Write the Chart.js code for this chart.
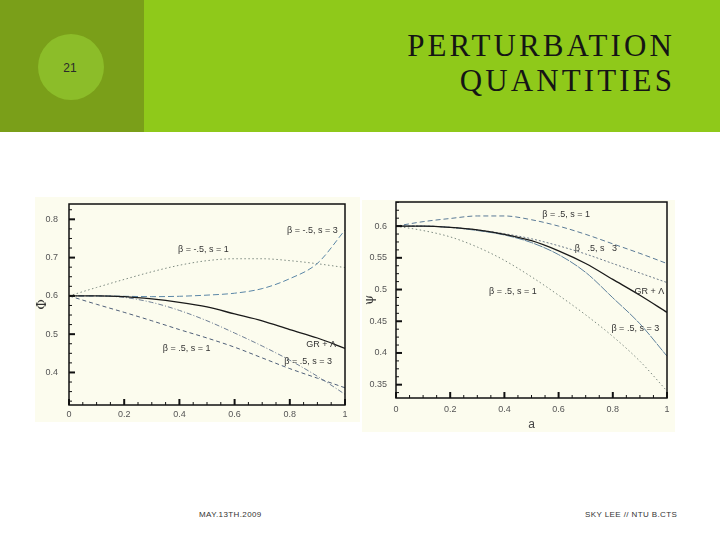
<!DOCTYPE html>
<html>
<head>
<meta charset="utf-8">
<script src="https://cdn.jsdelivr.net/npm/chart.js@4.4.0/dist/chart.umd.min.js"></script>
<style>
  body { margin: 0; width: 720px; height: 540px; background: #ffffff; position: relative; overflow: hidden; font-family: "Liberation Sans", Arial, sans-serif; }
  #band { position: absolute; left: 0; top: 0; width: 720px; height: 132px; background: #8fc91a; }
  #side { position: absolute; left: 0; top: 0; width: 144px; height: 132px; background: #7a9f19; }
  #dot { position: absolute; left: 38px; top: 34px; width: 66px; height: 66px; border-radius: 50%; background: #8cbd29; }
  #num { position: absolute; left: 37px; top: 35px; width: 66px; height: 66px; line-height: 66px; text-align: center; font-size: 12px; color: #2a2a2a; }
  .title { position: absolute; right: 45px; font-family: "Liberation Serif", "DejaVu Serif", serif; font-size: 31px; letter-spacing: 3.1px; color: #151515; white-space: nowrap; }
  .foot { position: absolute; top: 510px; font-size: 8px; letter-spacing: 0.4px; color: #333; white-space: nowrap; }
  canvas { position: absolute; background: #fcfcee; }
</style>
</head>
<body>
<div id="band"></div>
<div id="side"></div>
<div id="dot"></div>
<div id="num">21</div>
<div class="title" style="top:28px">PERTURBATION</div>
<div class="title" style="top:63px">QUANTITIES</div>
<canvas id="phi-chart" width="325" height="225" style="left:35px; top:197px"></canvas>
<canvas id="psi-chart" width="313" height="232" style="left:362px; top:200px"></canvas>
<div class="foot" style="left:199px">MAY.13TH.2009</div>
<div class="foot" style="left:585px">SKY LEE // NTU B.CTS</div>
<script>
// scale factor a
const aValues = [0, 0.1, 0.2, 0.3, 0.4, 0.5, 0.6, 0.7, 0.8, 0.9, 1];

// left panel: Phi
const phiNegS3 = [0.6, 0.6, 0.599, 0.598, 0.599, 0.602, 0.607, 0.619, 0.645, 0.685, 0.772];
const phiNegS1 = [0.6, 0.622, 0.643, 0.663, 0.68, 0.692, 0.697, 0.697, 0.692, 0.684, 0.674];
const phiGR = [0.6, 0.6, 0.598, 0.592, 0.583, 0.571, 0.553, 0.535, 0.512, 0.49, 0.463];
const phiPosS3 = [0.6, 0.6, 0.596, 0.583, 0.562, 0.535, 0.503, 0.469, 0.432, 0.39, 0.343];
const phiPosS1 = [0.6, 0.578, 0.557, 0.535, 0.512, 0.49, 0.466, 0.438, 0.41, 0.385, 0.36];
const phiYTicks = [0.4, 0.5, 0.6, 0.7, 0.8];

// right panel: Psi
const psiTopS1 = [0.6, 0.607, 0.612, 0.616, 0.616, 0.61, 0.6, 0.587, 0.572, 0.557, 0.541];
const psiMidS3 = [0.6, 0.6, 0.598, 0.594, 0.588, 0.58, 0.569, 0.556, 0.541, 0.526, 0.511];
const psiGR = [0.6, 0.6, 0.598, 0.594, 0.587, 0.577, 0.561, 0.541, 0.516, 0.491, 0.464];
const psiLowS3 = [0.6, 0.6, 0.598, 0.593, 0.586, 0.574, 0.555, 0.527, 0.487, 0.446, 0.395];
const psiLowS1 = [0.6, 0.593, 0.583, 0.567, 0.546, 0.52, 0.491, 0.46, 0.426, 0.387, 0.34];
const psiYTicks = [0.35, 0.4, 0.45, 0.5, 0.55, 0.6];

const xTicks = [0, 0.2, 0.4, 0.6, 0.8, 1];

const pts = (ys) => aValues.map((a, i) => ({ x: a, y: ys[i] }));

const line = (label, ys, color, dash, width) => ({
  label: label,
  data: pts(ys),
  borderColor: color,
  borderDash: dash,
  borderWidth: width || 1,
  pointRadius: 0,
  cubicInterpolationMode: 'monotone',
  fill: false
});

// frame, inward ticks and curve labels
const decor = {
  id: 'decor',
  afterDatasetsDraw(chart, args, opts) {
    const ctx = chart.ctx;
    const area = chart.chartArea;
    const xs = chart.scales.x, ys = chart.scales.y;
    ctx.save();
    ctx.strokeStyle = '#111';
    ctx.lineWidth = 1.5;
    ctx.strokeRect(area.left, area.top, area.right - area.left, area.bottom - area.top);

    const tickRun = (scale, minor, major, horiz) => {
      const first = Math.ceil(scale.min / minor - 1e-6);
      for (let k = first; k * minor <= scale.max + 1e-9; k++) {
        const v = k * minor;
        const isMajor = Math.abs(v / major - Math.round(v / major)) < 1e-6;
        const len = isMajor ? 6 : 3;
        ctx.lineWidth = isMajor ? 2 : 1;
        const p = scale.getPixelForValue(v);
        ctx.beginPath();
        if (horiz) { ctx.moveTo(p, area.bottom); ctx.lineTo(p, area.bottom - len); }
        else { ctx.moveTo(area.left, p); ctx.lineTo(area.left + len, p); }
        ctx.stroke();
      }
    };
    tickRun(xs, 0.05, 0.2, true);
    tickRun(ys, opts.yMinor, opts.yMajor, false);

    ctx.fillStyle = '#333';
    ctx.font = '9px "Liberation Sans", Arial, sans-serif';
    ctx.textBaseline = 'middle';
    opts.notes.forEach(n => {
      ctx.fillText(n.text, xs.getPixelForValue(n.a), ys.getPixelForValue(n.v));
    });
    ctx.restore();
  }
};

const axisTicks = { color: '#555', font: { size: 9, family: '"Liberation Sans", Arial, sans-serif' } };

const makeChart = (id, datasets, yMin, yMax, yTicks, yTitle, xTitle, pad, xHeight, yPad, xPad, yMinor, yMajor, notes) => {
  return new Chart(document.getElementById(id), {
    type: 'line',
    data: { datasets: datasets },
    options: {
      responsive: false,
      animation: false,
      layout: { padding: pad },
      plugins: {
        legend: { display: false },
        tooltip: { enabled: false },
        decor: { yMinor: yMinor, yMajor: yMajor, notes: notes }
      },
      scales: {
        x: {
          type: 'linear', min: 0, max: 1,
          grid: { display: false, drawTicks: false }, border: { display: false },
          afterBuildTicks: s => { s.ticks = xTicks.map(v => ({ value: v })) },
          afterFit: s => { s.height = xHeight; s.paddingLeft = 0; s.paddingRight = 0 },
          ticks: Object.assign({ padding: xPad, maxRotation: 0, callback: v => String(v) }, axisTicks),
          title: { display: !!xTitle, text: xTitle, color: '#444', padding: 0, font: { size: 12 } }
        },
        y: {
          min: yMin, max: yMax,
          grid: { display: false, drawTicks: false }, border: { display: false },
          afterBuildTicks: s => { s.ticks = yTicks.map(v => ({ value: v })) },
          afterFit: s => { s.width = 34; s.paddingTop = 0; s.paddingBottom = 0 },
          ticks: Object.assign({ padding: yPad, callback: v => String(v) }, axisTicks),
          title: { display: true, text: yTitle, color: '#333', padding: 0, font: { size: 13, family: '"DejaVu Serif", serif' } }
        }
      }
    },
    plugins: [decor]
  });
};

const phiChart = () => {
  makeChart('phi-chart', [
    line('GR + Λ', phiGR, '#1a1a1a', [], 1.3),
    line('β = -.5, s = 3', phiNegS3, '#5a86a6', [6, 3]),
    line('β = -.5, s = 1', phiNegS1, '#7d8a80', [1.5, 2.5]),
    line('β = .5, s = 3', phiPosS3, '#6f7f95', [5, 2, 1, 2]),
    line('β = .5, s = 1', phiPosS1, '#4f5f78', [4, 3])
  ], 0.315, 0.84, phiYTicks, 'Φ', '', { left: 0, right: 15, top: 7, bottom: 0 }, 17, 11, 4, 0.025, 0.1, [
    { text: 'β = -.5, s = 3', a: 0.79, v: 0.771 },
    { text: 'β = -.5, s = 1', a: 0.395, v: 0.72 },
    { text: 'GR + Λ', a: 0.86, v: 0.473 },
    { text: 'β = .5, s = 3', a: 0.78, v: 0.429 },
    { text: 'β = .5, s = 1', a: 0.34, v: 0.463 }
  ]);
}

const psiChart = () => {
  makeChart('psi-chart', [
    line('GR + Λ', psiGR, '#1a1a1a', [], 1.3),
    line('β = .5, s = 1 (upper)', psiTopS1, '#5a7a96', [5, 3]),
    line('β = .5, s = 3 (upper)', psiMidS3, '#6d7b8a', [2, 2]),
    line('β = .5, s = 3', psiLowS3, '#5e809c', [9, 1]),
    line('β = .5, s = 1', psiLowS1, '#7d8a80', [1.5, 2.5])
  ], 0.329, 0.638, psiYTicks, 'ψ', 'a', { left: 0, right: 8, top: 2, bottom: 0 }, 34, 9, 6, 0.0125, 0.05, [
    { text: 'β = .5, s = 1', a: 0.54, v: 0.619 },
    { text: 'β   .5, s   3', a: 0.66, v: 0.5645 },
    { text: 'GR + Λ', a: 0.88, v: 0.4965 },
    { text: 'β = .5, s = 3', a: 0.795, v: 0.439 },
    { text: 'β = .5, s = 1', a: 0.343, v: 0.4965 }
  ]);
}

const showCharts = () => {
  phiChart();
  psiChart();
}

showCharts();
</script>
</body>
</html>
